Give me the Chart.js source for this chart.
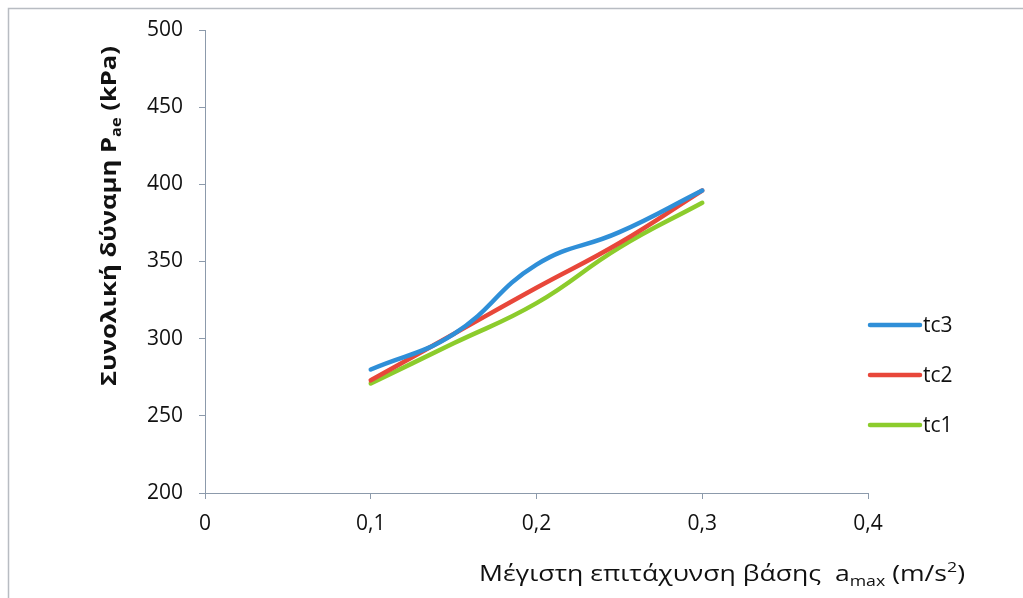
<!DOCTYPE html>
<html>
<head>
<meta charset="utf-8">
<script src="https://cdn.jsdelivr.net/npm/chart.js@4"></script>
<style>
  html, body { margin: 0; padding: 0; background: #fff; }
  #wrap { position: relative; width: 1023px; height: 598px; }
  canvas { display: block; }
</style>
</head>
<body>
<div id="wrap"><canvas id="c" width="1023" height="598"></canvas></div>
<script>
// Peak base acceleration a_max (m/s²)
const accel = [0.1, 0.15, 0.2, 0.25, 0.3];

// Total force P_ae (kPa) for each case
const tc3 = [280, 303, 348, 369, 396];
const tc2 = [273, 303, 333, 362, 396];
const tc1 = [271, 297, 323, 359, 388];

const seriesNames = ['tc3', 'tc2', 'tc1'];
const seriesColors = ['#2f8fd8', '#e8473a', '#8ccc2c'];

const yTicks = [200, 250, 300, 350, 400, 450, 500];
const xTicks = [0, 0.1, 0.2, 0.3, 0.4];

const FONT = '"Open Sans", "Noto Sans", sans-serif';
const AXIS = '#8c9aab';
const INK = '#111111';

function toPoints(values) {
  return values.map((v, i) => ({ x: accel[i], y: v }));
}

const seriesValues = [tc3, tc2, tc1];

// Draws a run of text pieces (some lowered/raised for sub/superscripts),
// stretched along the baseline to a given length.
function drawRuns(ctx, parts, weight, length) {
  let total = 0;
  parts.forEach(p => {
    ctx.font = weight + ' ' + p.size + 'px ' + FONT;
    p.w = ctx.measureText(p.t).width;
    total += p.w;
  });
  const sx = length / total;
  ctx.scale(sx, 1);
  let x = 0;
  parts.forEach(p => {
    ctx.font = weight + ' ' + p.size + 'px ' + FONT;
    ctx.fillText(p.t, x, p.dy);
    x += p.w;
  });
}

// Axis titles (with subscripts) and the legend on the right
const annotations = {
  id: 'annotations',
  afterDraw(chart) {
    const ctx = chart.ctx;
    ctx.save();
    ctx.fillStyle = INK;
    ctx.textBaseline = 'alphabetic';

    // y-axis title, rotated, reading bottom to top
    ctx.translate(116, 386);
    ctx.rotate(-Math.PI / 2);
    drawRuns(ctx, [
      { t: 'Συνολική δύναμη P', size: 22, dy: 0 },
      { t: 'ae', size: 14, dy: 5 },
      { t: ' (kPa)', size: 22, dy: 0 }
    ], 'bold', 340);
    ctx.setTransform(1, 0, 0, 1, 0, 0);

    // x-axis title under the axis
    ctx.translate(479, 581);
    drawRuns(ctx, [
      { t: 'Μέγιστη επιτάχυνση βάσης  a', size: 21, dy: 0 },
      { t: 'max', size: 14, dy: 5 },
      { t: ' (m/s', size: 21, dy: 0 },
      { t: '2', size: 14, dy: -9 },
      { t: ')', size: 21, dy: 0 }
    ], '500', 486);
    ctx.setTransform(1, 0, 0, 1, 0, 0);

    // legend
    ctx.font = '500 21px ' + FONT;
    ctx.textBaseline = 'middle';
    ctx.lineCap = 'round';
    chart.data.datasets.forEach((ds, i) => {
      const ly = 325 + i * 50;
      ctx.strokeStyle = ds.borderColor;
      ctx.lineWidth = 4.5;
      ctx.beginPath();
      ctx.moveTo(870, ly);
      ctx.lineTo(920, ly);
      ctx.stroke();
      ctx.fillStyle = INK;
      ctx.fillText(ds.label, 923, ly + 1);
    });

    // outer frame (top and left edges)
    ctx.strokeStyle = '#b8bcc2';
    ctx.lineWidth = 1.5;
    ctx.beginPath();
    ctx.moveTo(8.5, 598);
    ctx.lineTo(8.5, 8.5);
    ctx.lineTo(1023, 8.5);
    ctx.stroke();
    ctx.restore();
  }
};

new Chart(document.getElementById('c'), {
  type: 'line',
  data: {
    datasets: seriesNames.map((name, i) => ({
      label: name,
      data: toPoints(seriesValues[i]),
      borderColor: seriesColors[i],
      backgroundColor: seriesColors[i],
      borderWidth: 4.5,
      pointRadius: 0,
      tension: 0.45,
      borderCapStyle: 'round',
      fill: false
    }))
  },
  options: {
    responsive: false,
    animation: false,
    layout: { padding: { top: 30, right: 155, bottom: 0, left: 0 } },
    plugins: { legend: { display: false }, tooltip: { enabled: false } },
    scales: {
      x: {
        type: 'linear',
        min: 0,
        max: 0.4,
        afterBuildTicks(scale) { scale.ticks = xTicks.map(v => ({ value: v })); },
        afterFit(scale) { scale.height = 105; },
        border: { color: AXIS, width: 1 },
        grid: { drawOnChartArea: false, color: AXIS, tickLength: 6 },
        ticks: {
          color: INK,
          font: { family: FONT, size: 21, weight: '500' },
          padding: 12,
          maxRotation: 0,
          callback: v => String(Math.round(v * 10) / 10).replace('.', ',')
        }
      },
      y: {
        min: 200,
        max: 500,
        afterBuildTicks(scale) { scale.ticks = yTicks.map(v => ({ value: v })); },
        afterFit(scale) { scale.width = 205; },
        border: { color: AXIS, width: 1 },
        grid: { drawOnChartArea: false, color: AXIS, tickLength: 6 },
        ticks: {
          color: INK,
          font: { family: FONT, size: 21, weight: '500' },
          padding: 16
        }
      }
    }
  },
  plugins: [annotations]
});
</script>
</body>
</html>
